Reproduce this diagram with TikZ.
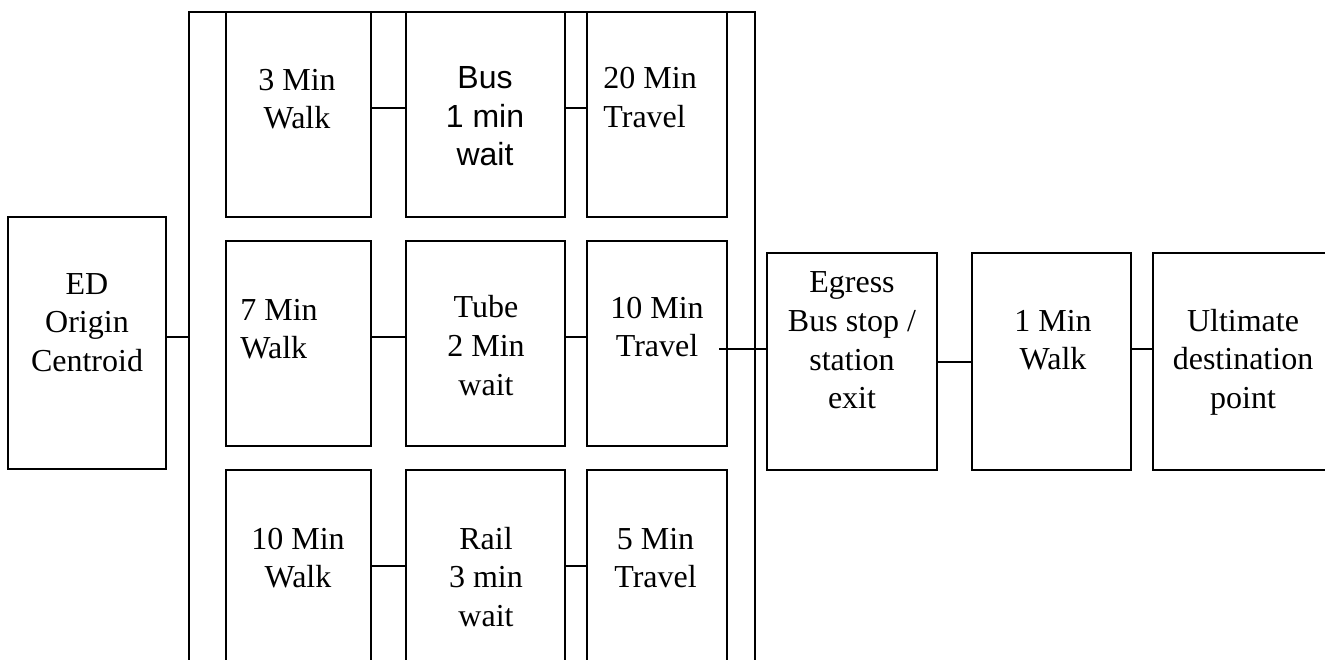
\documentclass[tikz,border=0pt]{standalone}
\usepackage{fontspec}
\setmainfont{Liberation Serif}
\newfontfamily\arialfont{Liberation Sans}
\begin{document}
\begin{tikzpicture}[x=0.5pt, y=-0.5pt,
        box/.style={draw, line width=1pt, inner sep=0pt, outer sep=0pt, minimum height=102.5pt},
        link/.style={line width=1pt},
        lbl/.style={align=center, inner sep=0pt, font=\fontsize{16}{19.3}\selectfont}]
    \useasboundingbox (0,0) rectangle (1325,659);

    % levels of the connectors
    \coordinate (lineA) at (0,108);
    \coordinate (lineB) at (0,337);
    \coordinate (lineC) at (0,566);
    \coordinate (lineE) at (0,349);

    % origin and the frame round the routes
    \node[box, minimum width=79pt, minimum height=126pt] (ed) at (87,343) {};
    \node[box, minimum width=283pt, minimum height=344pt] (frame) at (472,356) {};

    % bus route
    \node[box, minimum width=72.5pt] (walkA) at (298.5,114.5) {};
    \node[box, minimum width=79.5pt] (busA) at (485.5,114.5) {};
    \node[box, minimum width=70pt] (travelA) at (657,114.5) {};
    % tube route
    \node[box, minimum width=72.5pt] (walkB) at (298.5,343.5) {};
    \node[box, minimum width=79.5pt] (busB) at (485.5,343.5) {};
    \node[box, minimum width=70pt] (travelB) at (657,343.5) {};
    % rail route
    \node[box, minimum width=72.5pt] (walkC) at (298.5,572.5) {};
    \node[box, minimum width=79.5pt] (busC) at (485.5,572.5) {};
    \node[box, minimum width=70pt] (travelC) at (657,572.5) {};

    % egress and destination
    \node[box, minimum width=85pt, minimum height=108.5pt] (egress) at (852,361.5) {};
    \node[box, minimum width=79.5pt, minimum height=108.5pt] (finalwalk) at (1051.5,361.5) {};
    \node[box, minimum width=90pt, minimum height=108.5pt] (ultimate) at (1243,361.5) {};

    % texts
    \node[lbl] (ed-txt) at (87,322.5) {ED\\Origin\\Centroid};
    \node[lbl] (walkA-txt) at (297,99) {3 Min\\Walk};
    \node[lbl, font=\arialfont\fontsize{16}{19.3}\selectfont] (busA-txt) at (485,116.5) {Bus\\1 min\\wait};
    \node[lbl, align=left, anchor=west] (travelA-txt) at (603,97.5) {20 Min\\Travel};
    \node[lbl, align=left, anchor=west] (walkB-txt) at (240,329) {7 Min\\Walk};
    \node[lbl] (busB-txt) at (486,345.5) {Tube\\2 Min\\wait};
    \node[lbl] (travelB-txt) at (657,327) {10 Min\\Travel};
    \node[lbl] (walkC-txt) at (298,558) {10 Min\\Walk};
    \node[lbl] (busC-txt) at (486,577) {Rail\\3 min\\wait};
    \node[lbl] (travelC-txt) at (655.5,558) {5 Min\\Travel};
    \node[lbl] (egress-txt) at (852,340.5) {Egress\\Bus stop /\\station\\exit};
    \node[lbl] (finalwalk-txt) at (1053,340) {1 Min\\Walk};
    \node[lbl] (ultimate-txt) at (1243,362) {Ultimate\\destination\\point};

    % connectors
    \draw[link] (ed.east |- lineB) -- (frame.west |- lineB);
    \draw[link] (walkA.east |- lineA) -- (busA.west |- lineA);
    \draw[link] (busA.east |- lineA) -- (travelA.west |- lineA);
    \draw[link] (walkB.east |- lineB) -- (busB.west |- lineB);
    \draw[link] (busB.east |- lineB) -- (travelB.west |- lineB);
    \draw[link] (walkC.east |- lineC) -- (busC.west |- lineC);
    \draw[link] (busC.east |- lineC) -- (travelC.west |- lineC);
    \draw[link] ([xshift=-4pt]travelB.east |- lineE) -- (egress.west |- lineE);
    \draw[link] (egress.east) -- (finalwalk.west);
    \draw[link] (finalwalk.east |- lineE) -- (ultimate.west |- lineE);
\end{tikzpicture}
\end{document}
